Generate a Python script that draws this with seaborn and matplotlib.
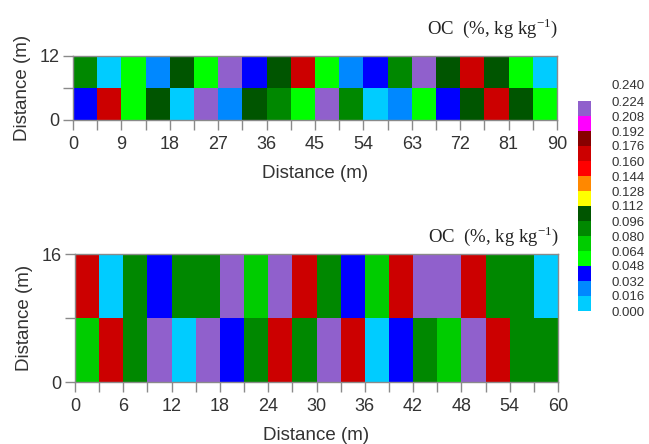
import numpy as np
import pandas as pd
import matplotlib
matplotlib.use("Agg")
import matplotlib.pyplot as plt
from matplotlib.colors import ListedColormap, BoundaryNorm
import seaborn as sns

# ---------------- data ----------------
# OC values (%, kg kg-1) per plot cell; upper row first, lower row second
top_upper = [0.089, 0.010, 0.055, 0.025, 0.103, 0.058, 0.217, 0.041, 0.105, 0.167,
             0.054, 0.023, 0.039, 0.087, 0.215, 0.102, 0.168, 0.106, 0.057, 0.009]
top_lower = [0.040, 0.169, 0.056, 0.104, 0.008, 0.216, 0.026, 0.101, 0.090, 0.053,
             0.218, 0.086, 0.011, 0.022, 0.059, 0.042, 0.107, 0.166, 0.103, 0.055]
bot_upper = [0.167, 0.009, 0.088, 0.041, 0.086, 0.089, 0.215, 0.072, 0.217, 0.168,
             0.087, 0.040, 0.070, 0.166, 0.216, 0.218, 0.169, 0.090, 0.085, 0.010]
bot_lower = [0.071, 0.168, 0.088, 0.214, 0.008, 0.217, 0.039, 0.087, 0.167, 0.089,
             0.216, 0.170, 0.012, 0.042, 0.086, 0.073, 0.215, 0.166, 0.091, 0.087]

top_xlabels = ["0", "9", "18", "27", "36", "45", "54", "63", "72", "81", "90"]
bot_xlabels = ["0", "6", "12", "18", "24", "30", "36", "42", "48", "54", "60"]
top_ylabels = ["12", "", "0"]
bot_ylabels = ["16", "", "0"]

class_levels = [0.000, 0.016, 0.032, 0.048, 0.064, 0.080, 0.096, 0.112,
                0.128, 0.144, 0.160, 0.176, 0.192, 0.208, 0.224]
legend_labels = ["0.000", "0.016", "0.032", "0.048", "0.064", "0.080", "0.096",
                 "0.112", "0.128", "0.144", "0.160", "0.176", "0.192", "0.208",
                 "0.224", "0.240"]
class_colors = ["#00CCFF", "#0088FF", "#0000FF", "#00FF00", "#00CC00", "#008800",
                "#005500", "#FFFF00", "#FF8800", "#FF0000", "#CC0000", "#880000",
                "#FF00FF", "#9060CC"]
title_text = "OC  (%, kg kg$^{\\mathregular{-1}}$)"

# ---------------- style ----------------
sns.set_theme(style="white")
plt.rcParams["font.family"] = ["Liberation Sans", "DejaVu Sans"]

cmap = ListedColormap(class_colors)
norm = BoundaryNorm(class_levels, cmap.N)

fig = plt.figure(figsize=(6.49, 4.44), dpi=100)
ax1 = fig.add_axes([73 / 649, 1 - 120 / 444, 484 / 649, 64 / 444])
ax2 = fig.add_axes([75 / 649, 1 - 382 / 444, 483 / 649, 128 / 444])
cax = fig.add_axes([578 / 649, 1 - 311 / 444, 13 / 649, 210 / 444])

spine_col = "#8a8a8a"
text_col = "#333333"


def draw(ax, upper, lower, xlabels, ylabels):
    df = pd.DataFrame([upper, lower], index=["upper", "lower"])
    sns.heatmap(df, ax=ax, cmap=cmap, norm=norm, cbar=False,
                xticklabels=False, yticklabels=False)
    n = len(upper)
    for s in ax.spines.values():
        s.set_visible(True)
        s.set_color(spine_col)
        s.set_linewidth(1.0)
    ax.set_xticks(np.arange(n + 1))
    ax.set_xticklabels([xlabels[i // 2] if i % 2 == 0 else "" for i in range(n + 1)])
    ax.set_yticks([0, 1, 2])
    ax.set_yticklabels(ylabels, rotation=0)
    ax.tick_params(bottom=True, left=True, direction="out", length=7.5,
                   width=1.0, color=spine_col, labelsize=13,
                   labelcolor=text_col)
    ax.tick_params(axis="x", pad=4)
    ax.tick_params(axis="y", pad=2)
    ax.set_xlabel("Distance (m)", fontsize=13.5, color=text_col, labelpad=9)
    ax.set_ylabel("Distance (m)", fontsize=13.5, color=text_col, labelpad=6)
    return ax.collections[0]


mesh = draw(ax1, top_upper, top_lower, top_xlabels, top_ylabels)
draw(ax2, bot_upper, bot_lower, bot_xlabels, bot_ylabels)

fig.text(558 / 649, 1 - 28 / 444, title_text, ha="right", va="center",
         family="Liberation Serif", fontsize=13.5, color="#222222")
fig.text(559 / 649, 1 - 236 / 444, title_text, ha="right", va="center",
         family="Liberation Serif", fontsize=13.5, color="#222222")

cb = fig.colorbar(mesh, cax=cax, boundaries=class_levels, ticks=class_levels)
cb.outline.set_visible(False)
cax.set_yticklabels(legend_labels[:-1])
cax.tick_params(length=0, labelsize=9.5, pad=15, labelcolor=text_col)
cax.text((612 - 578) / 13, 1 + 15 / 210, legend_labels[-1],
         transform=cax.transAxes, ha="left", va="center",
         fontsize=9.5, color=text_col, clip_on=False)

fig.savefig("out.png", dpi=100)
